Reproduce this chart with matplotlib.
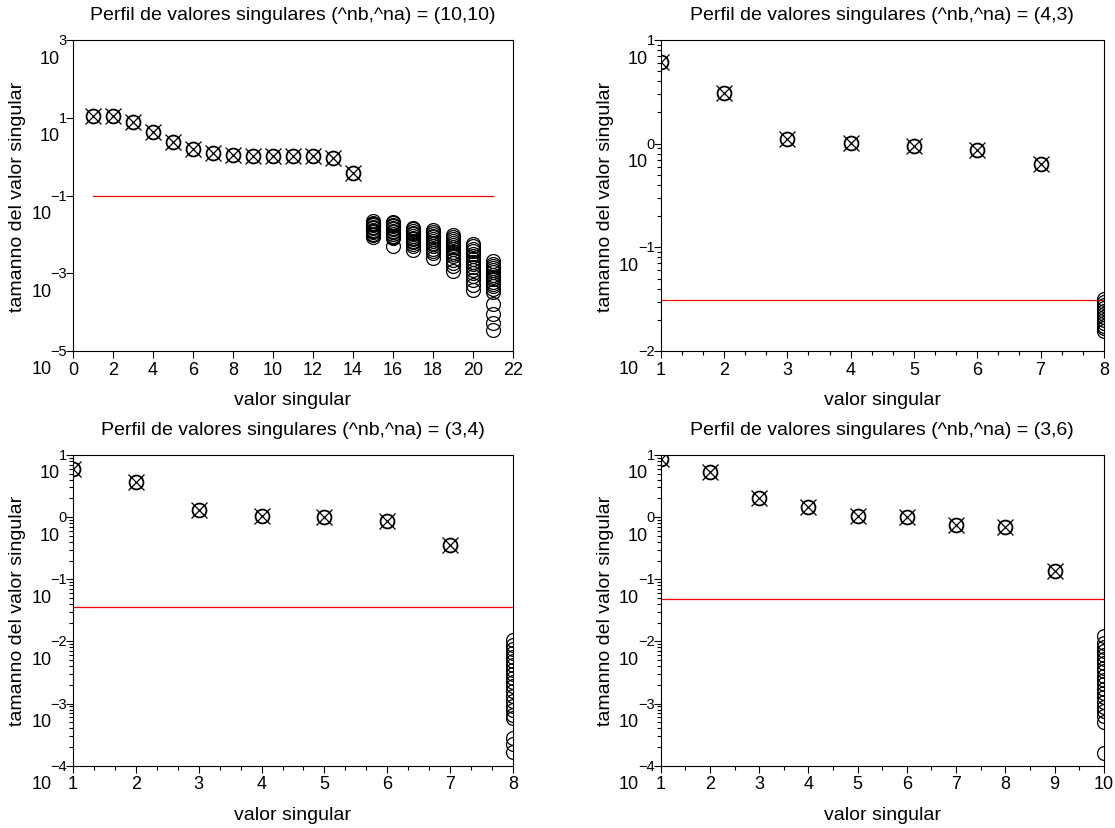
import numpy as np
import matplotlib.pyplot as plt
from matplotlib.ticker import FixedLocator, MultipleLocator, LogLocator, NullFormatter, NullLocator

plt.rcParams['font.family'] = ['Liberation Sans', 'DejaVu Sans']

titulo = "Perfil de valores singulares (^nb,^na) = ({},{})"
ordenes = [(10, 10), (4, 3), (3, 4), (3, 6)]

# valores singulares dominantes (circulo + cruz)
sv_10_10 = [11.3, 11.0, 7.9, 4.4, 2.35, 1.58, 1.24, 1.12, 1.06, 1.06, 1.06, 1.03, 0.93, 0.39]
sv_4_3 = [6.1, 3.06, 1.12, 1.01, 0.96, 0.87, 0.63]
sv_3_4 = [5.95, 3.7, 1.32, 1.03, 0.99, 0.87, 0.356]
sv_3_6 = [8.6, 5.4, 2.03, 1.44, 1.03, 1.0, 0.755, 0.684, 0.134]

# valores singulares de ruido (solo circulos), una lista por indice
ruido_10_10 = {
    15: [0.0219, 0.0200, 0.0182, 0.0170, 0.0155, 0.0145, 0.0132, 0.0123, 0.0112, 0.0105, 0.0095, 0.0087],
    16: [0.0214, 0.0195, 0.0178, 0.0162, 0.0148, 0.0135, 0.0123, 0.0112, 0.0102, 0.0093, 0.0085, 0.0079, 0.0049],
    17: [0.0148, 0.0135, 0.0122, 0.0110, 0.0100, 0.0091, 0.0083, 0.0075, 0.0068, 0.0062, 0.0055, 0.0049, 0.0040],
    18: [0.0126, 0.0114, 0.0103, 0.0093, 0.0084, 0.0076, 0.0068, 0.0061, 0.0055, 0.0049, 0.0043, 0.0037, 0.0033, 0.0025],
    19: [0.0098, 0.0087, 0.0077, 0.0068, 0.0060, 0.0053, 0.0047, 0.0041, 0.0036, 0.0032, 0.0027, 0.0022, 0.00186,
         0.0015, 0.00112],
    20: [0.0058, 0.0050, 0.0043, 0.0037, 0.0032, 0.0027, 0.0023, 0.0020, 0.0017, 0.00145, 0.00122, 0.00102,
         0.00085, 0.00068, 0.00050, 0.00036],
    21: [0.00204, 0.00178, 0.00158, 0.00138, 0.0012, 0.00105, 0.000912, 0.000794, 0.000692, 0.000603, 0.000525,
         0.000457, 0.000398, 0.000339, 0.000162, 9.1e-5, 5.4e-5, 3.5e-5],
}
ruido_4_3 = {8: [0.032, 0.030, 0.028, 0.026, 0.0245, 0.023, 0.0215, 0.020, 0.0188, 0.0175, 0.0165, 0.0155]}
ruido_3_4 = {8: [0.0105, 0.0089, 0.0076, 0.0066, 0.0056, 0.0048, 0.0042, 0.0035, 0.0030, 0.0026, 0.0022,
                 0.0019, 0.00158, 0.00132, 0.00112, 0.00093, 0.00079, 0.00066, 0.00058, 0.00028, 0.00022,
                 0.000166]}
ruido_3_6 = {10: [0.012, 0.0093, 0.0081, 0.0071, 0.006, 0.0052, 0.0045, 0.0038, 0.0033, 0.0028, 0.0024,
                  0.00204, 0.00174, 0.00148, 0.00126, 0.00107, 0.00089, 0.00076, 0.00063, 0.00051, 0.000158]}

umbral = [0.095, 0.031, 0.036, 0.049]

W, H = 1115, 829
fig = plt.figure(figsize=(W / 100, H / 100), dpi=100)

# posicion de cada eje en pixeles: izquierda, arriba, derecha, abajo
cajas = [(73, 41, 513, 352), (660.7, 41, 1103.8, 352), (73, 456, 513, 766.7), (660.7, 456, 1103.8, 766.7)]
xlims = [(0, 22), (1, 8), (1, 8), (1, 10)]
ylims = [(1e-5, 1e3), (1e-2, 1e1), (1e-4, 1e1), (1e-4, 1e1)]
yexps = [[3, 1, -1, -3, -5], [1, 0, -1, -2], [1, 0, -1, -2, -3, -4], [1, 0, -1, -2, -3, -4]]
xmajor = [2, 1, 1, 1]
xminor = [None, 1 / 3, 1 / 3, 0.5]
linea_x = [(1, 21), (1, 8), (1, 8), (1, 10)]

dominantes = [sv_10_10, sv_4_3, sv_3_4, sv_3_6]
ruidos = [ruido_10_10, ruido_4_3, ruido_3_4, ruido_3_6]


def etiquetas_log(ax, exps, gap=6):
    # estilo scilab: el exponente junto a la marca y el "10" debajo a la izquierda
    for k in exps:
        e = str(k).replace('-', '\u2212')
        a = ax.annotate(e, xy=(0, 10.0 ** k), xycoords=ax.get_yaxis_transform(), xytext=(-gap, 0),
                        textcoords='offset pixels', ha='right', va='center', fontsize=10.5)
        ax.annotate('10', xy=(0, 0.5), xycoords=a, xytext=(1, -18), textcoords='offset pixels',
                    ha='right', va='center', fontsize=13)


for i in range(4):
    l, t, r, b = cajas[i]
    ax = fig.add_axes([l / W, 1 - b / H, (r - l) / W, (b - t) / H])
    ax.set_yscale('log')

    dom = dominantes[i]
    xs = np.arange(1, len(dom) + 1)
    ax.plot(xs, dom, 'o', mfc='none', mec='black', ms=10, mew=1.3, zorder=3)
    ax.plot(xs, dom, 'x', color='black', ms=12, mew=0.9, zorder=3)
    for idx, vals in ruidos[i].items():
        ax.plot(np.full(len(vals), idx), vals, 'o', mfc='none', mec='black', ms=10, mew=0.9, zorder=3)

    ax.plot(linea_x[i], [umbral[i], umbral[i]], color='red', lw=0.9, zorder=2)

    ax.set_xlim(*xlims[i])
    ax.set_ylim(*ylims[i])
    ax.xaxis.set_major_locator(MultipleLocator(xmajor[i]))
    if xminor[i]:
        ax.xaxis.set_minor_locator(MultipleLocator(xminor[i]))
    ax.yaxis.set_major_locator(FixedLocator([10.0 ** k for k in yexps[i]]))
    if i == 0:
        ax.yaxis.set_minor_locator(NullLocator())
    else:
        ax.yaxis.set_minor_locator(LogLocator(base=10, subs=np.arange(2, 10), numticks=20))
    ax.yaxis.set_major_formatter(NullFormatter())
    ax.yaxis.set_minor_formatter(NullFormatter())
    etiquetas_log(ax, yexps[i])

    ax.tick_params(which='major', direction='out', length=5, width=0.8, labelsize=13, pad=2)
    ax.tick_params(which='minor', direction='out', length=3, width=0.8)
    for s in ax.spines.values():
        s.set_linewidth(0.8)

    ax.set_title(titulo.format(*ordenes[i]), fontsize=14, pad=15)
    ax.set_xlabel('valor singular', fontsize=14, va='baseline')
    ax.xaxis.set_label_coords(0.5, -53 / (b - t))
    ax.set_ylabel('tamanno del valor singular', fontsize=14, va='center')
    ax.yaxis.set_label_coords(-55 / (r - l), 0.5)

fig.savefig('out.png', dpi=100)
